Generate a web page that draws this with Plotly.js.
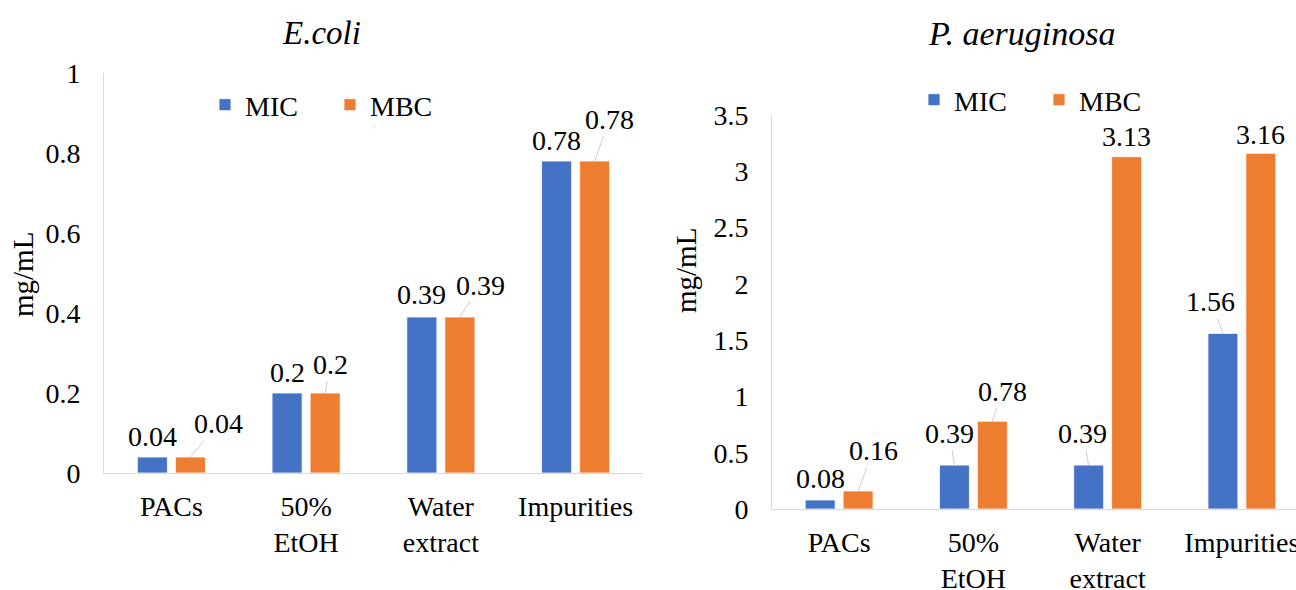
<!DOCTYPE html>
<html>
<head>
<meta charset="utf-8">
<script src="https://cdn.plot.ly/plotly-3.0.1.min.js"></script>
<style>
  html, body { margin: 0; padding: 0; background: #fff; overflow: hidden; }
  #chart { width: 1296px; height: 590px; }
</style>
</head>
<body>
<div id="chart"></div>
<script>
// Minimum inhibitory / bactericidal concentrations (mg/mL)
const categories = ['PACs', '50%<br>EtOH', 'Water<br>extract', 'Impurities'];
const seriesNames = ['MIC', 'MBC'];

const ecoliMIC = [0.04, 0.2, 0.39, 0.78];
const ecoliMBC = [0.04, 0.2, 0.39, 0.78];
const paMIC = [0.08, 0.39, 0.39, 1.56];
const paMBC = [0.16, 0.78, 3.13, 3.16];

const panelTitles = ['E.coli', 'P. aeruginosa'];
const yTitle = 'mg/mL';

// Label placement (pixel offsets of the label centre from the top of each bar,
// negative = upwards) and whether a leader line is drawn
const ecoliMICOff = [[0, -21, 0], [0, -21, 0], [0, -23, 0], [0, -21, 0]];
const ecoliMBCOff = [[28, -34, 1], [5, -29, 1], [21, -32, 1], [15, -42, 1]];
const paMICOff = [[0, -21, 0], [-5, -32, 1], [-6, -32, 1], [-12, -32, 1]];
const paMBCOff = [[15, -40, 1], [10, -30, 1], [0, -20, 0], [0, -19, 0]];

const W = 1296, H = 590;
const FONT = 'Liberation Serif';
const BLUE = '#4472C4', ORANGE = '#ED7D31';
const BARGAP = 0.435;
const slotOffset = (1 - BARGAP) / 4;

const px = v => v / W;
const py = v => 1 - v / H;

function barTrace(name, vals, color, xa, ya, legend) {
  return {
    type: 'bar', name: name, x: categories, y: vals,
    xaxis: xa, yaxis: ya, legend: legend,
    marker: { color: color, line: { color: '#ffffff', width: 0.8 } },
    hoverinfo: 'x+y+name'
  };
}

const traces = [
  barTrace(seriesNames[0], ecoliMIC, BLUE, 'x', 'y', 'legend'),
  barTrace(seriesNames[1], ecoliMBC, ORANGE, 'x', 'y', 'legend'),
  barTrace(seriesNames[0], paMIC, BLUE, 'x2', 'y2', 'legend2'),
  barTrace(seriesNames[1], paMBC, ORANGE, 'x2', 'y2', 'legend2')
];

const annotations = [];
function addLabels(vals, offs, side, xa, ya) {
  vals.forEach((v, i) => {
    const [dx, dy, leader] = offs[i];
    const a = {
      x: i + side * slotOffset, y: v, xref: xa, yref: ya,
      text: String(v),
      font: { family: FONT, size: 28, color: '#000' }
    };
    if (leader) {
      Object.assign(a, {
        showarrow: true, arrowhead: 0, arrowwidth: 0.8, arrowcolor: '#bfbfbf',
        ax: dx, ay: dy, standoff: 0
      });
    } else {
      Object.assign(a, { showarrow: false, xshift: dx, yshift: -dy, yanchor: 'middle' });
    }
    annotations.push(a);
  });
}
addLabels(ecoliMIC, ecoliMICOff, -1, 'x', 'y');
addLabels(ecoliMBC, ecoliMBCOff, 1, 'x', 'y');
addLabels(paMIC, paMICOff, -1, 'x2', 'y2');
addLabels(paMBC, paMBCOff, 1, 'x2', 'y2');

// Panel titles
[[panelTitles[0], 321, 33], [panelTitles[1], 1021, 34]].forEach(([t, x, s]) => {
  annotations.push({
    text: t, xref: 'paper', yref: 'paper',
    x: px(x), y: py(33), xanchor: 'center', yanchor: 'middle', showarrow: false,
    font: { family: FONT, size: s, color: '#000', style: 'italic' }
  });
});

// Y-axis titles
[[23, 275], [686, 271]].forEach(([x, y]) => {
  annotations.push({
    text: yTitle, textangle: -90, xref: 'paper', yref: 'paper',
    x: px(x), y: py(y), xanchor: 'center', yanchor: 'middle', showarrow: false,
    font: { family: FONT, size: 29, color: '#000' }
  });
});

const axisFont = () => ({ family: FONT, size: 28, color: '#000' });
const xBase = () => ({
  type: 'category', showgrid: false, zeroline: false,
  showline: true, linecolor: '#d9d9d9', linewidth: 1,
  ticks: '', tickfont: axisFont(), ticklabelstandoff: 8, fixedrange: true
});
const yBase = () => ({
  showgrid: false, zeroline: false, showline: true, linecolor: '#d9d9d9', linewidth: 1,
  ticks: '', tickfont: axisFont(), ticklabelstandoff: 17, fixedrange: true
});

const legendBase = () => ({
  orientation: 'h', font: { family: FONT, size: 28, color: '#000' },
  bgcolor: 'rgba(0,0,0,0)', xanchor: 'left', yanchor: 'middle',
  entrywidth: 80, entrywidthmode: 'pixels', itemclick: false, itemdoubleclick: false
});

const layout = {
  width: W, height: H,
  margin: { l: 0, r: 0, t: 0, b: 0 },
  paper_bgcolor: '#fff', plot_bgcolor: '#fff',
  barmode: 'group', bargap: BARGAP, bargroupgap: 0.21,
  showlegend: true,
  xaxis: Object.assign(xBase(), { domain: [px(104), px(643)], range: [-0.5, 3.5], anchor: 'y' }),
  yaxis: Object.assign(yBase(), { domain: [py(473), py(73)], range: [0, 1], dtick: 0.2, anchor: 'x' }),
  xaxis2: Object.assign(xBase(), { domain: [px(772), 1], range: [-0.5, 3.403], anchor: 'y2' }),
  yaxis2: Object.assign(yBase(), { domain: [py(509), py(115)], range: [0, 3.5], dtick: 0.5, anchor: 'x2' }),
  legend: Object.assign(legendBase(), { x: px(205), y: py(105) }),
  legend2: Object.assign(legendBase(), { x: px(914), y: py(100) }),
  annotations: annotations,
  font: { family: FONT, size: 28, color: '#000' }
};

Plotly.newPlot('chart', traces, layout, { displayModeBar: false });
</script>
</body>
</html>
